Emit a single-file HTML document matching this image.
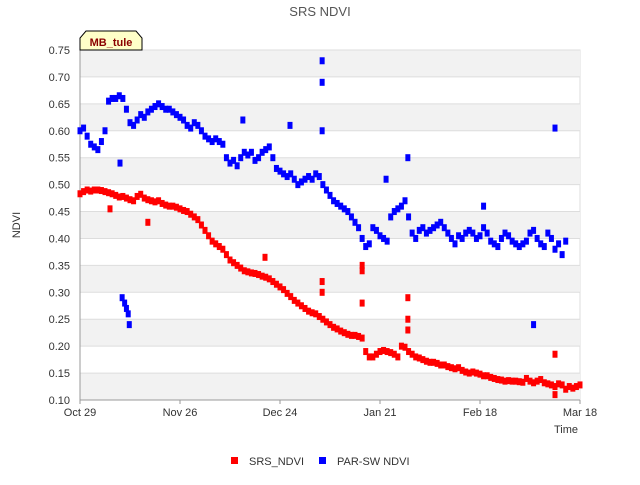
<!DOCTYPE html>
<html><head><meta charset="utf-8"><style>
body{margin:0;background:#fff;font-family:"Liberation Sans",sans-serif;}
svg text{font-family:"Liberation Sans",sans-serif;}
</style></head><body>
<svg id="chart" width="640" height="480">
<text x="320" y="16" text-anchor="middle" font-size="13" fill="#555">SRS NDVI</text>
<g id="bands"></g><g id="grid"></g><g id="axes"></g><g id="marks"></g>
<text x="20" y="225" transform="rotate(-90 20 225)" text-anchor="middle" font-size="11" fill="#333">NDVI</text>
<text x="578" y="433" text-anchor="end" font-size="11" fill="#333">Time</text>
<g>
<path d="M80,50 L80,38 L86,31 L136,31 L142,38 L142,50 Z" fill="#ffffc8" stroke="#000"/>
<text x="111" y="46" text-anchor="middle" font-size="11" font-weight="bold" fill="#8b0000">MB_tule</text></g>
<g><rect x="231" y="457" width="7" height="7" fill="#f00"/><text x="249" y="465" font-size="11" fill="#333">SRS_NDVI</text></g>
<g><rect x="319" y="457" width="7" height="7" fill="#00f"/><text x="337" y="465" font-size="11" fill="#333">PAR-SW NDVI</text></g>
</svg>
<script>
const yTicks=[0.10,0.15,0.20,0.25,0.30,0.35,0.40,0.45,0.50,0.55,0.60,0.65,0.70,0.75];
const xTickLabels=["Oct 29","Nov 26","Dec 24","Jan 21","Feb 18","Mar 18"];
const xTickDays=[0,28,56,84,112,140];
const srsValues=[.483,.487,.49,.488,.49,.49,.489,.487,.485,.483,.48,.477,.478,.475,.472,.47,.478,.482,.475,.472,.47,.468,.47,.465,.462,.46,.46,.458,.455,.452,.45,.445,.44,.435,.425,.415,.405,.395,.39,.385,.38,.37,.36,.355,.35,.345,.34,.338,.336,.335,.333,.33,.328,.325,.32,.315,.31,.305,.298,.292,.285,.28,.275,.27,.265,.262,.26,.255,.25,.245,.24,.235,.232,.228,.225,.222,.22,.22,.218,.215,.19,.18,.18,.185,.19,.192,.19,.188,.185,.18,.2,.198,.19,.185,.18,.178,.175,.172,.17,.17,.168,.165,.165,.162,.16,.158,.16,.155,.152,.15,.152,.15,.148,.145,.145,.142,.14,.138,.137,.135,.136,.135,.135,.134,.133,.14,.135,.132,.135,.138,.132,.13,.128,.125,.13,.128,.12,.125,.122,.125,.128];
const parValues=[.60,.605,.59,.575,.57,.565,.58,.60,.655,.66,.66,.665,.66,.64,.615,.61,.62,.63,.625,.635,.64,.645,.65,.645,.64,.64,.635,.63,.625,.62,.61,.605,.615,.61,.60,.59,.585,.58,.585,.58,.575,.55,.54,.545,.535,.55,.56,.555,.56,.545,.55,.56,.565,.57,.55,.53,.525,.52,.515,.52,.51,.50,.505,.51,.515,.51,.52,.515,.50,.49,.48,.47,.465,.46,.455,.45,.44,.43,.42,.40,.385,.39,.42,.415,.405,.40,.395,.44,.45,.455,.46,.47,.44,.41,.40,.415,.42,.41,.415,.42,.425,.43,.42,.41,.40,.39,.405,.40,.41,.415,.41,.40,.405,.42,.41,.395,.39,.385,.40,.41,.405,.395,.39,.385,.39,.395,.41,.415,.40,.39,.385,.41,.40,.38,.39,.37,.395];
const srsExtraDays=[8.4,19,51.8,67.8,67.8,79,79,79,91.8,91.8,91.8,133,133];
const srsExtraValues=[.455,.43,.365,.32,.30,.35,.34,.28,.29,.25,.23,.185,.11];
const parExtraDays=[67.8,67.8,67.8,58.8,127,133,11.2,11.8,12.5,13,13.5,13.8,45.6,85.7,91.8,113];
const parExtraValues=[.73,.69,.60,.61,.24,.605,.54,.29,.28,.27,.26,.24,.62,.51,.55,.46];
const NS="http://www.w3.org/2000/svg";
const X0=80,X1=580,Y0=400,Y1=50;
const xs=d=>X0+d/140*(X1-X0);
const ys=v=>Y0-(v-0.10)/0.65*(Y0-Y1);
function mk(t,a,p){const e=document.createElementNS(NS,t);for(const k in a)e.setAttribute(k,a[k]);p.appendChild(e);return e;}
const bands=document.getElementById('bands'),grid=document.getElementById('grid'),axes=document.getElementById('axes'),marks=document.getElementById('marks');
mk('rect',{x:X0,y:Y1,width:X1-X0,height:Y0-Y1,fill:'#fff',stroke:'#ddd'},bands);
for(let i=0;i<yTicks.length-1;i++){if(i%2===0){const r=mk('rect',{x:X0,y:ys(yTicks[i+1]),width:X1-X0,height:ys(yTicks[i])-ys(yTicks[i+1]),fill:'#f2f2f2'},bands);

}}
yTicks.forEach(v=>{mk('line',{x1:X0,x2:X1,y1:ys(v),y2:ys(v),stroke:'#ddd'},grid);
const t=mk('text',{x:X0-10,y:ys(v)+4,'text-anchor':'end','font-size':11,fill:'#333'},axes);t.textContent=v.toFixed(2);

});
xTickDays.forEach((d,i)=>{mk('line',{x1:xs(d),x2:xs(d),y1:Y0,y2:Y0+4,stroke:'#999'},axes);
const t=mk('text',{x:xs(d),y:Y0+16,'text-anchor':'middle','font-size':11,fill:'#333'},axes);t.textContent=xTickLabels[i];

});
mk('line',{x1:X0,x2:X0,y1:Y1,y2:Y0,stroke:'#999'},axes);
mk('line',{x1:X0,x2:X1,y1:Y0,y2:Y0,stroke:'#999'},axes);
function pt(d,v,c,n){const r=mk('rect',{x:xs(d)-2.5,y:ys(v)-3.5,width:5,height:7,fill:c},marks);

}
parValues.forEach((v,i)=>pt(i,v,'#00f','parsw-point'));
parExtraDays.forEach((d,i)=>pt(d,parExtraValues[i],'#00f','parsw-point'));
srsValues.forEach((v,i)=>pt(i,v,'#f00','srs-point'));
srsExtraDays.forEach((d,i)=>pt(d,srsExtraValues[i],'#f00','srs-point'));
</script>
</body></html>
